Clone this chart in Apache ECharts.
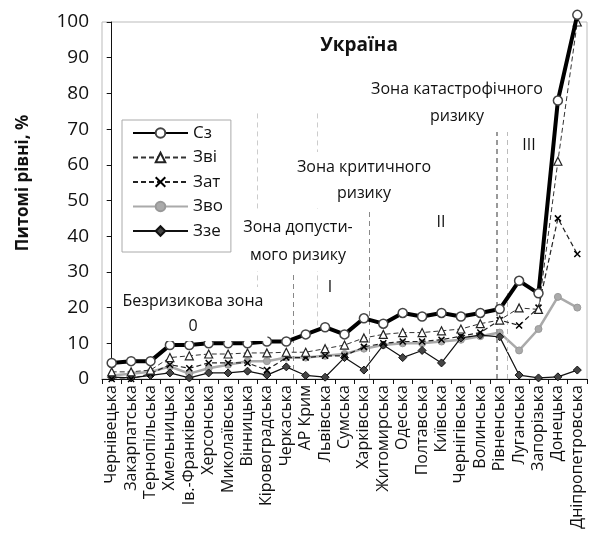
<!DOCTYPE html>
<html>
<head>
<meta charset="utf-8">
<script src="https://cdn.jsdelivr.net/npm/echarts@6/dist/echarts.min.js"></script>
<style>
  html, body { margin: 0; padding: 0; background: #fff; }
  #chart { width: 607px; height: 553px; }
</style>
</head>
<body>
<div id="chart"></div>
<script>
const categories = [
  'Чернівецька', 'Закарпатська', 'Тернопільська', 'Хмельницька', 'Ів.-Франківська',
  'Херсонська', 'Миколаївська', 'Вінницька', 'Кіровоградська', 'Черкаська',
  'АР Крим', 'Львівська', 'Сумська', 'Харківська', 'Житомирська',
  'Одеська', 'Полтавська', 'Київська', 'Чернігівська', 'Волинська',
  'Рівненська', 'Луганська', 'Запорізька', 'Донецька', 'Дніпропетровська'
]
const seriesNames = ['Сз', 'Зві', 'Зат', 'Зво', 'Ззе']
const sz  = [4.5, 5, 5, 9.5, 9.5, 10, 10, 10, 10.5, 10.5, 12.5, 14.5, 12.5, 17, 15.5, 18.5, 17.5, 18.5, 17.5, 18.5, 19.6, 27.5, 24, 78, 102]
const zvi = [2, 2, 2.5, 6, 6.5, 7, 7, 7.3, 7.3, 7.5, 7.5, 8.5, 9.5, 11.5, 12.5, 13, 13, 13.5, 14, 15.5, 16.5, 19.9, 19.5, 61, 100]
const zat = [0, 0, 1.5, 4, 3, 4.5, 4.5, 4.5, 2.5, 6, 6, 6.5, 6.5, 9, 10, 10.5, 10.5, 11, 12, 13, 16.5, 15, 20, 45, 35]
const zvo = [1, 1.5, 2, 3.5, 1.5, 3, 4, 5, 5, 6, 6, 6.5, 7, 8.5, 9.5, 10, 10, 10.5, 11, 12, 13, 8, 14, 23, 20]
const zze = [0.5, 0.3, 1, 1.7, 0.3, 1.7, 1.7, 2.2, 1.1, 3.4, 1, 0.5, 6, 2.5, 9.5, 6, 8, 4.5, 11.5, 12.3, 11.8, 1.1, 0.3, 0.6, 2.5]
const yTicks = { min: 0, max: 100, interval: 10 }

// zone boundary lines: [category position, y from, y to]
const zoneLines = [
  [9.35, 0, 30, '#888', 1],
  [13.3, 0, 49, '#888', 1],
  [19.85, 0, 72, '#999', 2],
  [20.4, 0, 72, '#bbb', 1],
  [7.5, 15, 75, '#ccc', 1],
  [10.6, 15, 75, '#ccc', 1]
]

const FONT = '"Open Sans", "Noto Sans", sans-serif'

const chart = echarts.init(document.getElementById('chart'))

function note(text, x, y, opts) {
  opts = opts || {}
  return {
    type: 'text',
    x: x,
    y: y,
    z: 50,
    style: {
      text: text,
      fill: '#111',
      font: `${opts.weight || ''} ${opts.size || 16}px ${FONT}`,
      lineHeight: opts.lineHeight || 20,
      align: 'center',
      verticalAlign: 'middle',
      backgroundColor: '#fff',
      padding: opts.padding || [2, 4]
    }
  }
}

const option = {
  backgroundColor: '#fff',
  animation: false,
  textStyle: { fontFamily: FONT },
  grid: {
    left: 102,
    right: 20,
    top: 22,
    bottom: 174,
    show: true,
    borderColor: '#bbb',
    borderWidth: 1
  },
  legend: {
    data: seriesNames,
    orient: 'vertical',
    left: 122,
    top: 120,
    padding: [3, 8, 11, 10],
    itemWidth: 55,
    itemHeight: 12,
    itemGap: 4.5,
    backgroundColor: '#fff',
    borderColor: '#aaa',
    borderWidth: 1,
    textStyle: { fontSize: 17, color: '#111', lineHeight: 20 },
    z: 40
  },
  xAxis: [
    {
      type: 'category',
      data: categories,
      boundaryGap: true,
      axisLine: { lineStyle: { color: '#111', width: 1 } },
      axisTick: { show: true, length: 5, lineStyle: { color: '#111' } },
      axisLabel: { rotate: 90, interval: 0, fontSize: 16, color: '#111', margin: 6 },
      splitLine: { show: false }
    },
    {
      type: 'value',
      min: -0.5,
      max: 24.5,
      show: false
    }
  ],
  yAxis: {
    type: 'value',
    min: yTicks.min,
    max: yTicks.max,
    interval: yTicks.interval,
    axisLine: { show: true, lineStyle: { color: '#111' } },
    axisTick: { show: true, length: 5, lineStyle: { color: '#111' } },
    axisLabel: { fontSize: 19, color: '#111', margin: 13 },
    splitLine: { show: false }
  },
  graphic: [
    {
      type: 'text',
      x: 23,
      y: 183,
      rotation: Math.PI / 2,
      style: {
        text: 'Питомі рівні, %',
        fill: '#111',
        font: `bold 17px ${FONT}`,
        align: 'center',
        verticalAlign: 'middle'
      }
    },
    note('Україна', 359, 46, { size: 19, weight: 'bold', padding: [3, 6] }),
    note('Зона катастрофічного\nризику', 457, 103, { lineHeight: 27 }),
    note('III', 529, 145),
    note('Зона критичного\nризику', 364, 180, { lineHeight: 26 }),
    note('II', 441, 222),
    note('Зона допусти-\nмого ризику', 298, 241, { lineHeight: 28 }),
    note('I', 330, 287),
    note('Безризикова зона\n0', 193, 314, { lineHeight: 25 })
  ],
  series: [
    {
      name: '',
      type: 'line',
      xAxisIndex: 1,
      data: [],
      silent: true,
      markLine: {
        silent: true,
        symbol: 'none',
        label: { show: false },
        data: zoneLines.map(l => [
          { coord: [l[0], l[1]], lineStyle: { color: l[3], width: l[4], type: [5, 4] } },
          { coord: [l[0], l[2]] }
        ])
      }
    },
    {
      name: 'Зво',
      type: 'line',
      data: zvo,
      z: 3,
      symbol: 'circle',
      symbolSize: 7,
      lineStyle: { color: '#aaa', width: 2.5 },
      itemStyle: { color: '#aaa', borderColor: '#999', borderWidth: 1 }
    },
    {
      name: 'Ззе',
      type: 'line',
      data: zze,
      z: 4,
      symbol: 'diamond',
      symbolSize: 8,
      lineStyle: { color: '#111', width: 1.2 },
      itemStyle: { color: '#444', borderColor: '#111', borderWidth: 1 }
    },
    {
      name: 'Зат',
      type: 'line',
      data: zat,
      z: 5,
      symbol: 'path://M0,0L10,10M10,0L0,10',
      symbolSize: 6,
      lineStyle: { color: '#222', width: 1.2, type: [5, 3] },
      itemStyle: { color: '#000', borderColor: '#000', borderWidth: 1.5 }
    },
    {
      name: 'Зві',
      type: 'line',
      data: zvi,
      z: 6,
      symbol: 'triangle',
      symbolSize: 8,
      lineStyle: { color: '#333', width: 1, type: [5, 3] },
      itemStyle: { color: '#fff', borderColor: '#222', borderWidth: 1.2 }
    },
    {
      name: 'Сз',
      type: 'line',
      data: sz,
      z: 7,
      clip: false,
      symbol: 'circle',
      symbolSize: 9,
      lineStyle: { color: '#000', width: 4 },
      itemStyle: { color: '#fff', borderColor: '#444', borderWidth: 1.5 }
    }
  ]
}

chart.setOption(option)
</script>
</body>
</html>
